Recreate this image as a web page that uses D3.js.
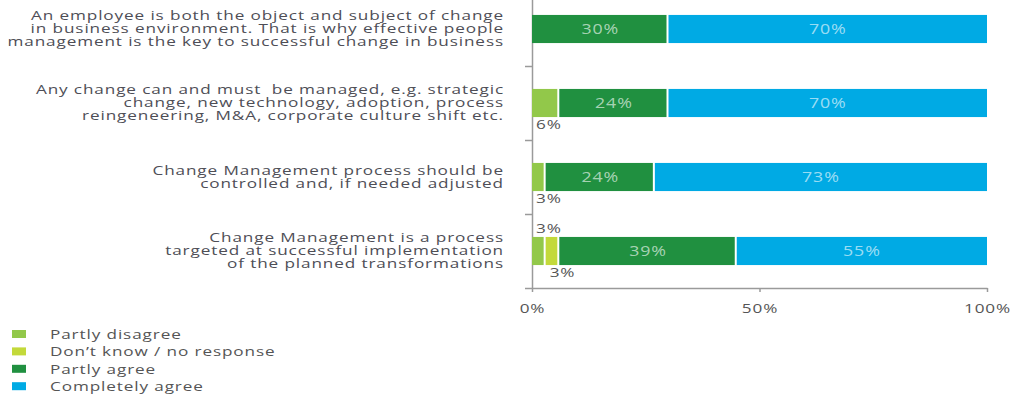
<!DOCTYPE html>
<html>
<head>
<meta charset="utf-8">
<script src="https://cdn.jsdelivr.net/npm/d3@7"></script>
<style>
	body { margin: 0; background: #fff; }
	svg text { font-family: 'Open Sans', sans-serif; }
</style>
</head>
<body>
<div id="chart"></div>
<script>
// data
var categories = [
	['An employee is both the object and subject of change', 'in business environment. That is why effective people', 'management is the key to successful change in business'],
	['Any change can and must  be managed, e.g. strategic', 'change, new technology, adoption, process', 'reingeneering, M&A, corporate culture shift etc.'],
	['Change Management process should be', 'controlled and, if needed adjusted'],
	['Change Management is a process', 'targeted at successful implementation', 'of the planned transformations']
];
var seriesNames = ['Partly disagree', 'Don\u2019t know / no response', 'Partly agree', 'Completely agree'];
var partlyDisagree = [0, 6, 3, 3];
var dontKnow = [0, 0, 0, 3];
var partlyAgree = [30, 24, 24, 39];
var completelyAgree = [70, 70, 73, 55];
var xTicks = [0, 50, 100];

var colors = ['#92c84a', '#c3d93a', '#209040', '#00aae4'];
var series = [partlyDisagree, dontKnow, partlyAgree, completelyAgree];

var W = 1014, H = 394;
var fs = '13.5px', ls = '0.7px', sx = 1.27;
var svg = d3.select('#chart').append('svg')
	.attr('width', W)
	.attr('height', H);

function place(px, py) { return 'translate(' + px + ',' + py + ') scale(' + sx + ',1)'; }

var x = d3.scaleLinear().domain([0, 100]).range([532, 987]);
var y = d3.scaleBand()
	.domain(d3.range(categories.length))
	.range([-8, 288])
	.paddingInner(0.62)
	.paddingOuter(0.31);
var yEdge = d3.scaleLinear().domain([0, categories.length]).range([-8, 288]);

// stack
var rows = categories.map(function(c, i) {
	var acc = 0;
	return series.map(function(s, k) {
		var seg = { row: i, k: k, v: s[i], x0: acc, x1: acc + s[i] };
		acc += s[i];
		return seg;
	});
});
var segs = [].concat.apply([], rows).filter(function(d) { return d.v > 0; });

// axes
var yAxis = d3.axisLeft(yEdge).tickValues(d3.range(0, categories.length + 1)).tickFormat('').tickSize(7).tickSizeOuter(0);
svg.append('g')
	.attr('transform', 'translate(532,0)')
	.call(yAxis)
	.call(function(g) {
		g.select('.domain').attr('stroke', '#9a9a9a').attr('stroke-width', 1.5);
		g.selectAll('.tick line').attr('stroke', '#9a9a9a').attr('stroke-width', 1.5);
	});

var xAxis = d3.axisBottom(x).tickValues(xTicks).tickFormat(function(d) { return d + '%'; }).tickSize(4).tickSizeOuter(0);
svg.append('g')
	.attr('transform', 'translate(0,288)')
	.call(xAxis)
	.call(function(g) {
		g.select('.domain').attr('stroke', '#9a9a9a').attr('stroke-width', 1.5);
		g.selectAll('.tick line').attr('stroke', '#9a9a9a').attr('stroke-width', 1.5);
		g.selectAll('.tick text')
			.attr('y', 0)
			.attr('dy', '0.71em')
			.attr('transform', place(0, 15))
			.style('font-size', fs)
			.style('letter-spacing', ls)
			.style('font-family', "'Open Sans', sans-serif")
			.attr('fill', '#555');
	});

// bars
svg.append('g').selectAll('rect')
	.data(segs)
	.enter()
	.append('rect')
	.attr('x', function(d) { return x(d.x0); })
	.attr('width', function(d) { return x(d.x1) - x(d.x0) - (d.x1 < 100 ? 2 : 0); })
	.attr('y', function(d) { return y(d.row); })
	.attr('height', y.bandwidth())
	.attr('fill', function(d) { return colors[d.k]; });

// labels inside big segments
svg.append('g').selectAll('text')
	.data(segs.filter(function(d) { return d.v >= 10; }))
	.enter()
	.append('text')
	.attr('transform', function(d) { return place((x(d.x0) + x(d.x1)) / 2, y(d.row) + y.bandwidth() / 2); })
	.attr('dy', '0.36em')
	.attr('text-anchor', 'middle')
	.style('font-size', '14px')
	.style('letter-spacing', ls)
	.attr('fill', 'rgba(255,255,255,0.62)')
	.text(function(d) { return d.v + '%'; });

// small segment labels, placed above or below the bar
var small = segs.filter(function(d) { return d.v < 10; });
svg.append('g').selectAll('text')
	.data(small)
	.enter()
	.append('text')
	.attr('transform', function(d) {
		var above = d.row === 3 && d.k === 0;
		return place(x(d.x0) + 4, above ? y(d.row) - 4 : y(d.row) + y.bandwidth() + 12);
	})
	.style('font-size', fs)
	.style('letter-spacing', ls)
	.attr('fill', '#555')
	.text(function(d) { return d.v + '%'; });

// category labels
var lh = 13;
var cat = svg.append('g').selectAll('text')
	.data(categories)
	.enter()
	.append('text')
	.attr('text-anchor', 'end')
	.attr('transform', place(504, 0))
	.style('font-size', fs)
	.style('letter-spacing', ls)
	.attr('fill', '#4e4e56');
cat.selectAll('tspan')
	.data(function(d, i) { return d.map(function(t, j) { return { t: t, j: j, n: d.length, row: i }; }); })
	.enter()
	.append('tspan')
	.attr('x', 0)
	.attr('y', function(d) { return y(d.row) + y.bandwidth() / 2 + (d.j - (d.n - 1) / 2) * lh + 4.5; })
	.style('white-space', 'pre')
	.text(function(d) { return d.t; });

// legend
var legend = svg.append('g').selectAll('g')
	.data(seriesNames)
	.enter()
	.append('g')
	.attr('transform', function(d, i) { return 'translate(12,' + (334 + i * 17.4) + ')'; });
legend.append('rect')
	.attr('x', 0).attr('y', -4)
	.attr('width', 14).attr('height', 8)
	.attr('fill', function(d, i) { return colors[i]; });
legend.append('text')
	.attr('transform', place(38, 0))
	.attr('dy', '0.36em')
	.style('font-size', fs)
	.style('letter-spacing', ls)
	.attr('fill', '#555')
	.text(function(d) { return d; });
</script>
</body>
</html>
